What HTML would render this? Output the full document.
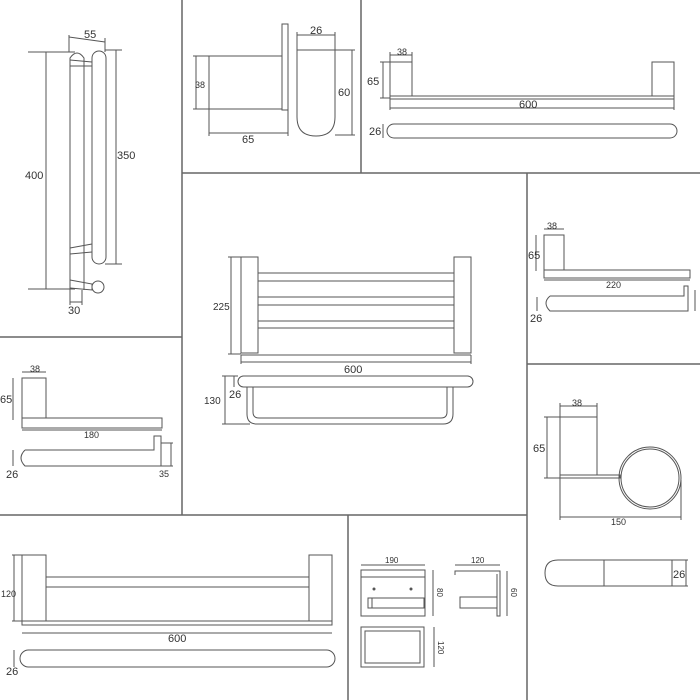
<!DOCTYPE html>
<html><head><meta charset="utf-8"><style>
html,body{margin:0;padding:0;background:#fff;width:700px;height:700px;overflow:hidden}
svg{display:block}
text{font-family:"Liberation Sans",sans-serif;fill:#333}
</style></head><body>
<svg width="700" height="700" viewBox="0 0 700 700" xmlns="http://www.w3.org/2000/svg">
<g stroke="#666" stroke-width="1.5" fill="none">
<line x1="182" y1="0" x2="182" y2="515"/>
<line x1="0" y1="337" x2="182" y2="337"/>
<line x1="182" y1="173" x2="700" y2="173"/>
<line x1="361" y1="0" x2="361" y2="173"/>
<line x1="527" y1="173" x2="527" y2="700"/>
<line x1="527" y1="364" x2="700" y2="364"/>
<line x1="0" y1="515" x2="527" y2="515"/>
<line x1="348" y1="515" x2="348" y2="700"/>
</g>
<g stroke="#555" stroke-width="1" fill="none">
<!-- Panel A -->
<path d="M70 290 L70 58 Q77 48 84 58 L84 290"/>
<rect x="92" y="51" width="14" height="213" rx="7"/>
<line x1="70" y1="60" x2="92" y2="62"/><line x1="70" y1="66" x2="92" y2="66"/>
<line x1="70" y1="248" x2="92" y2="244"/><line x1="70" y1="254" x2="92" y2="252"/>
<path d="M70 280 L92 284 L92 290 L70 288"/>
<circle cx="98" cy="287" r="6"/>
<line x1="69" y1="37" x2="105" y2="42"/><line x1="69" y1="35" x2="69" y2="52"/><line x1="105" y1="38" x2="105" y2="52"/>
<line x1="46" y1="52" x2="46" y2="289"/><line x1="28" y1="52" x2="75" y2="52"/><line x1="28" y1="289" x2="75" y2="289"/>
<line x1="116" y1="50" x2="116" y2="264"/><line x1="105" y1="50" x2="122" y2="50"/><line x1="105" y1="264" x2="122" y2="264"/>
<line x1="70" y1="302" x2="82" y2="302"/><line x1="70" y1="290" x2="70" y2="305"/><line x1="82" y1="290" x2="82" y2="305"/>
<!-- Panel B -->
<rect x="209" y="56" width="73" height="53"/>
<rect x="282" y="24" width="6" height="86"/>
<line x1="196" y1="56" x2="196" y2="109"/><line x1="193" y1="56" x2="209" y2="56"/><line x1="193" y1="109" x2="209" y2="109"/>
<line x1="209" y1="133" x2="288" y2="133"/><line x1="209" y1="109" x2="209" y2="136"/><line x1="288" y1="110" x2="288" y2="136"/>
<path d="M297 50 L297 117 Q297 136 316 136 Q335 136 335 117 L335 50 Z"/>
<line x1="297" y1="35" x2="335" y2="35"/><line x1="297" y1="32" x2="297" y2="50"/><line x1="335" y1="32" x2="335" y2="50"/>
<line x1="352" y1="50" x2="352" y2="135"/><line x1="335" y1="50" x2="355" y2="50"/><line x1="335" y1="135" x2="355" y2="135"/>
<!-- Panel C -->
<rect x="390" y="62" width="22" height="34"/><rect x="652" y="62" width="22" height="34"/>
<rect x="390" y="96" width="284" height="3"/>
<line x1="390" y1="108" x2="674" y2="108"/><line x1="390" y1="99" x2="390" y2="110"/><line x1="674" y1="99" x2="674" y2="110"/>
<line x1="383" y1="62" x2="383" y2="98"/><line x1="380" y1="62" x2="390" y2="62"/><line x1="380" y1="98" x2="390" y2="98"/>
<line x1="390" y1="55" x2="412" y2="55"/><line x1="390" y1="52" x2="390" y2="62"/><line x1="412" y1="52" x2="412" y2="62"/>
<rect x="387" y="124" width="290" height="14" rx="7"/>
<line x1="383" y1="124" x2="383" y2="138"/>
<!-- Panel D -->
<rect x="241" y="257" width="17" height="96"/><rect x="454" y="257" width="17" height="96"/>
<line x1="258" y1="273" x2="454" y2="273"/><line x1="258" y1="281" x2="454" y2="281"/>
<line x1="258" y1="297" x2="454" y2="297"/><line x1="258" y1="305" x2="454" y2="305"/>
<line x1="258" y1="321" x2="454" y2="321"/><line x1="258" y1="328" x2="454" y2="328"/>
<line x1="241" y1="355" x2="471" y2="355"/>
<line x1="241" y1="362" x2="471" y2="362"/><line x1="241" y1="355" x2="241" y2="364"/><line x1="471" y1="355" x2="471" y2="364"/>
<line x1="231" y1="257" x2="231" y2="354"/><line x1="228" y1="257" x2="241" y2="257"/><line x1="228" y1="354" x2="241" y2="354"/>
<rect x="238" y="376" width="235" height="11" rx="5.5"/>
<path d="M247 387 L247 414 Q247 424 257 424 L443 424 Q453 424 453 414 L453 387"/>
<path d="M253 387 L253 412 Q253 418 259 418 L441 418 Q447 418 447 412 L447 387"/>
<line x1="225" y1="376" x2="225" y2="424"/><line x1="222" y1="376" x2="238" y2="376"/><line x1="222" y1="424" x2="250" y2="424"/>
<line x1="234" y1="376" x2="234" y2="387"/>
<!-- Panel E -->
<rect x="544" y="235" width="20" height="35"/>
<rect x="544" y="270" width="146" height="8"/>
<line x1="544" y1="280" x2="690" y2="280"/>
<line x1="536" y1="235" x2="536" y2="271"/><line x1="544" y1="229" x2="564" y2="229"/>
<path d="M550 296 L684 296 L684 286 L688 286 L688 311 L550 311 Q542 303 550 296"/>
<line x1="537" y1="297" x2="537" y2="311"/>
<line x1="695" y1="290" x2="695" y2="311"/>
<!-- Panel F -->
<rect x="22" y="378" width="24" height="40"/>
<rect x="22" y="418" width="140" height="10"/>
<line x1="22" y1="430" x2="162" y2="430"/>
<line x1="22" y1="372" x2="46" y2="372"/><line x1="13" y1="378" x2="13" y2="420"/>
<path d="M25 450 L154 450 L154 436 L161 436 L161 466 L25 466 Q17 458 25 450"/>
<line x1="13" y1="450" x2="13" y2="466"/>
<line x1="171" y1="443" x2="171" y2="466"/><line x1="161" y1="443" x2="173" y2="443"/><line x1="161" y1="466" x2="173" y2="466"/>
<!-- Panel G -->
<rect x="560" y="417" width="37" height="58"/>
<rect x="560" y="475" width="60" height="3"/>
<circle cx="650" cy="478" r="31"/><circle cx="650" cy="478" r="29"/>
<line x1="560" y1="406" x2="597" y2="406"/><line x1="560" y1="403" x2="560" y2="417"/><line x1="597" y1="403" x2="597" y2="417"/>
<line x1="547" y1="417" x2="547" y2="478"/><line x1="544" y1="417" x2="560" y2="417"/><line x1="544" y1="478" x2="560" y2="478"/>
<line x1="560" y1="517" x2="681" y2="517"/><line x1="560" y1="478" x2="560" y2="520"/><line x1="681" y1="480" x2="681" y2="520"/>
<path d="M558 560 L672 560 L672 586 L558 586 Q545 586 545 573 Q545 560 558 560"/>
<line x1="604" y1="560" x2="604" y2="586"/>
<line x1="686" y1="560" x2="686" y2="586"/><line x1="672" y1="560" x2="688" y2="560"/><line x1="672" y1="586" x2="688" y2="586"/>
<!-- Bottom-left -->
<rect x="22" y="555" width="24" height="66"/><rect x="309" y="555" width="23" height="66"/>
<line x1="46" y1="577" x2="309" y2="577"/><line x1="46" y1="587" x2="309" y2="587"/>
<rect x="22" y="621" width="310" height="4"/>
<line x1="22" y1="633" x2="332" y2="633"/>
<line x1="14" y1="555" x2="14" y2="621"/><line x1="12" y1="555" x2="22" y2="555"/><line x1="12" y1="621" x2="22" y2="621"/>
<rect x="20" y="650" width="315" height="17" rx="8.5"/>
<line x1="14" y1="650" x2="14" y2="667"/>
<!-- Bottom-middle -->
<rect x="361" y="570" width="64" height="46"/>
<line x1="361" y1="577" x2="425" y2="577"/>
<rect x="368" y="598" width="56" height="10"/><line x1="372" y1="598" x2="372" y2="608"/>
<line x1="361" y1="565" x2="425" y2="565"/>
<line x1="433" y1="570" x2="433" y2="616"/>
<path d="M455 575 L455 571 L500 571 L500 616 L497 616 L497 574"/>
<rect x="460" y="597" width="37" height="11"/>
<line x1="455" y1="565" x2="500" y2="565"/>
<line x1="507" y1="571" x2="507" y2="616"/>
<rect x="361" y="627" width="63" height="40"/><rect x="365" y="631" width="55" height="32"/>
<line x1="434" y1="627" x2="434" y2="667"/>
</g>
<g fill="#555"><circle cx="374" cy="589" r="1.5"/><circle cx="411" cy="589" r="1.5"/></g>
<g font-size="11">
<text x="84" y="38">55</text>
<text x="25" y="179">400</text>
<text x="117" y="159">350</text>
<text x="68" y="314">30</text>
<text x="195" y="88" font-size="9">38</text>
<text x="242" y="143">65</text>
<text x="310" y="34">26</text>
<text x="338" y="96">60</text>
<text x="397" y="55" font-size="9">38</text>
<text x="367" y="85">65</text>
<text x="519" y="108">600</text>
<text x="369" y="135">26</text>
<text x="213" y="310" font-size="10">225</text>
<text x="344" y="373">600</text>
<text x="204" y="404" font-size="10">130</text>
<text x="229" y="398">26</text>
<text x="547" y="229" font-size="9">38</text>
<text x="528" y="259">65</text>
<text x="606" y="288" font-size="9">220</text>
<text x="530" y="322">26</text>
<text x="30" y="372" font-size="9">38</text>
<text x="0" y="403">65</text>
<text x="84" y="438" font-size="9">180</text>
<text x="6" y="478">26</text>
<text x="159" y="477" font-size="9">35</text>
<text x="572" y="406" font-size="9">38</text>
<text x="533" y="452">65</text>
<text x="611" y="525" font-size="9">150</text>
<text x="673" y="578">26</text>
<text x="1" y="597" font-size="9">120</text>
<text x="168" y="642">600</text>
<text x="6" y="675">26</text>
<text x="385" y="563" font-size="8">190</text>
<text x="471" y="563" font-size="8">120</text>
<text font-size="8" transform="translate(437,588) rotate(90)">80</text>
<text font-size="8" transform="translate(511,588) rotate(90)">60</text>
<text font-size="8" transform="translate(438,641) rotate(90)">120</text>
</g>
</svg>
</body></html>
